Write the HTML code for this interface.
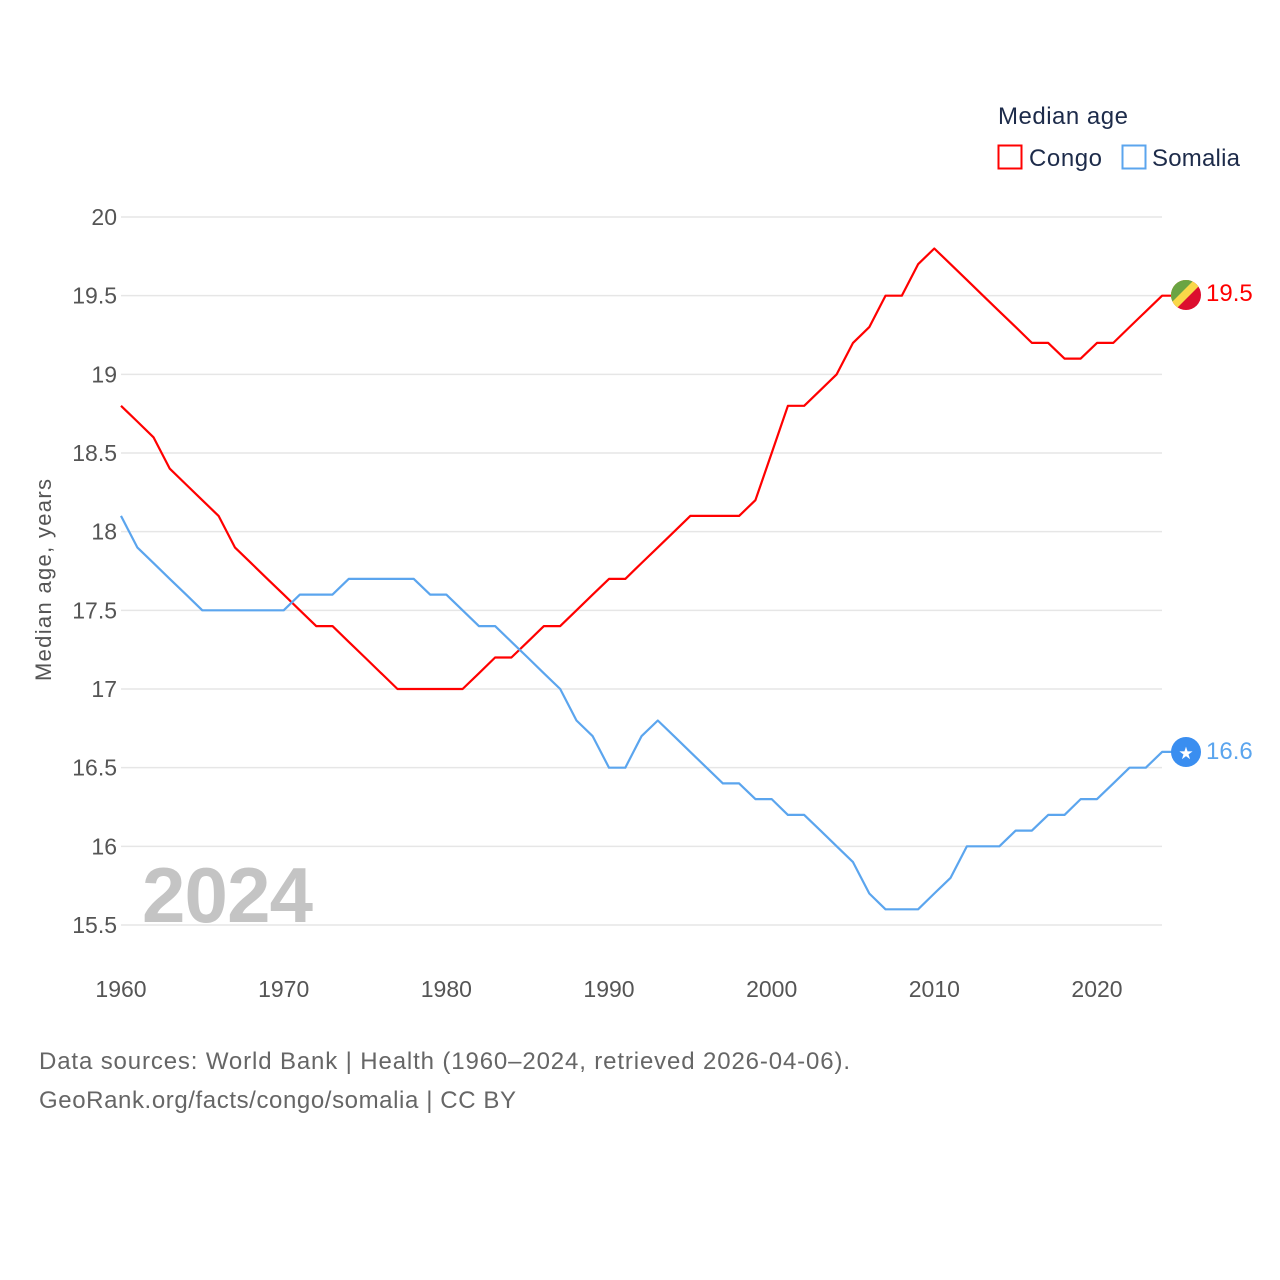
<!DOCTYPE html>
<html><head><meta charset="utf-8"><style>
html,body{margin:0;padding:0;background:#fff;}
svg{display:block;font-family:"Liberation Sans",sans-serif;}
</style></head><body>
<svg id="chart" width="1280" height="1280" viewBox="0 0 1280 1280">
<defs><clipPath id="cf"><circle cx="1186" cy="295" r="15"/></clipPath></defs>
<g id="grid"></g>
<g id="yticks"></g>
<g id="xticks"></g>
<text x="51" y="580" transform="rotate(-90 51 580)" text-anchor="middle" font-size="22" fill="#555" textLength="202">Median age, years</text>
<text x="142" y="922" font-size="78" font-weight="bold" fill="#c4c4c4" textLength="171">2024</text>
<g id="series"></g>
<g>
<g clip-path="url(#cf)">
<rect x="1170" y="279" width="32" height="32" fill="#dc0e2e"/>
<polygon points="1166,275 1210,275 1166,319" fill="#f9d849"/>
<polygon points="1166,275 1199,275 1166,308" fill="#6aa443"/>
</g>
</g>
<text x="1206" y="301" font-size="24" fill="#ff0000">19.5</text>
<g>
<circle cx="1186" cy="752" r="15" fill="#3a8ef0"/>
<text x="1186" y="759" font-size="17" fill="#fff" text-anchor="middle">★</text>
</g>
<text x="1206" y="759" font-size="24" fill="#5ba5ee">16.6</text>
<g>
<text x="998" y="124" font-size="24" fill="#1d2b4a" textLength="130">Median age</text>
<g>
<rect x="998.5" y="145.5" width="23" height="23" fill="none" stroke="#ff0000" stroke-width="2"/>
<text x="1029" y="166" font-size="24" fill="#1d2b4a" textLength="73">Congo</text></g>
<g>
<rect x="1122.5" y="145.5" width="23" height="23" fill="none" stroke="#5ba5ee" stroke-width="2"/>
<text x="1152" y="166" font-size="24" fill="#1d2b4a" textLength="88">Somalia</text></g>
</g>
<text x="39" y="1069" font-size="24" fill="#666" textLength="811">Data sources: World Bank | Health (1960–2024, retrieved 2026-04-06).</text>
<text x="39" y="1108" font-size="24" fill="#666" textLength="477">GeoRank.org/facts/congo/somalia | CC BY</text>
</svg>
<script>
const years = [];
for (let y = 1960; y <= 2024; y++) years.push(y);
const congo = [18.8,18.7,18.6,18.4,18.3,18.2,18.1,17.9,17.8,17.7,17.6,17.5,17.4,17.4,17.3,17.2,17.1,17.0,17.0,17.0,17.0,17.0,17.1,17.2,17.2,17.3,17.4,17.4,17.5,17.6,17.7,17.7,17.8,17.9,18.0,18.1,18.1,18.1,18.1,18.2,18.5,18.8,18.8,18.9,19.0,19.2,19.3,19.5,19.5,19.7,19.8,19.7,19.6,19.5,19.4,19.3,19.2,19.2,19.1,19.1,19.2,19.2,19.3,19.4,19.5];
const somalia = [18.1,17.9,17.8,17.7,17.6,17.5,17.5,17.5,17.5,17.5,17.5,17.6,17.6,17.6,17.7,17.7,17.7,17.7,17.7,17.6,17.6,17.5,17.4,17.4,17.3,17.2,17.1,17.0,16.8,16.7,16.5,16.5,16.7,16.8,16.7,16.6,16.5,16.4,16.4,16.3,16.3,16.2,16.2,16.1,16.0,15.9,15.7,15.6,15.6,15.6,15.7,15.8,16.0,16.0,16.0,16.1,16.1,16.2,16.2,16.3,16.3,16.4,16.5,16.5,16.6];
const yTicks = [15.5,16,16.5,17,17.5,18,18.5,19,19.5,20];
const xTicks = [1960,1970,1980,1990,2000,2010,2020];
const NS = 'http://www.w3.org/2000/svg';
const X = y => 121 + (y - 1960) * (976 / 60);
const Y = v => 217 + (20 - v) * (708 / 4.5);
const grid = document.getElementById('grid'), yt = document.getElementById('yticks'), xt = document.getElementById('xticks'), ser = document.getElementById('series');
yTicks.forEach(v => {
  const l = document.createElementNS(NS, 'line');
  l.setAttribute('x1', 121); l.setAttribute('x2', 1162);
  l.setAttribute('y1', Y(v)); l.setAttribute('y2', Y(v));
  l.setAttribute('stroke', '#e6e6e6'); l.setAttribute('stroke-width', 1.5);
  
  
  grid.appendChild(l);
  const t = document.createElementNS(NS, 'text');
  t.setAttribute('x', 117); t.setAttribute('y', Y(v) + 8);
  t.setAttribute('text-anchor', 'end'); t.setAttribute('font-size', 23); t.setAttribute('fill', '#555');
  t.textContent = String(v);
  
  
  yt.appendChild(t);
});
xTicks.forEach(v => {
  const t = document.createElementNS(NS, 'text');
  t.setAttribute('x', X(v)); t.setAttribute('y', 997);
  t.setAttribute('text-anchor', 'middle'); t.setAttribute('font-size', 23); t.setAttribute('fill', '#555');
  t.textContent = String(v);
  
  
  xt.appendChild(t);
});
function drawLine(vals, color, name) {
  let d = vals.map((v, i) => (i ? 'L' : 'M') + X(years[i]).toFixed(1) + ' ' + Y(v).toFixed(1)).join(' ');
  d += ' L1172 ' + Y(vals[vals.length - 1]).toFixed(1);
  const p = document.createElementNS(NS, 'path');
  p.setAttribute('d', d); p.setAttribute('fill', 'none'); p.setAttribute('stroke', color);
  p.setAttribute('stroke-width', 2.2); p.setAttribute('stroke-linejoin', 'round');
  
  
  ser.appendChild(p);
}
drawLine(congo, '#ff0000', 'congo-line');
drawLine(somalia, '#5ba5ee', 'somalia-line');
</script>
</body></html>
